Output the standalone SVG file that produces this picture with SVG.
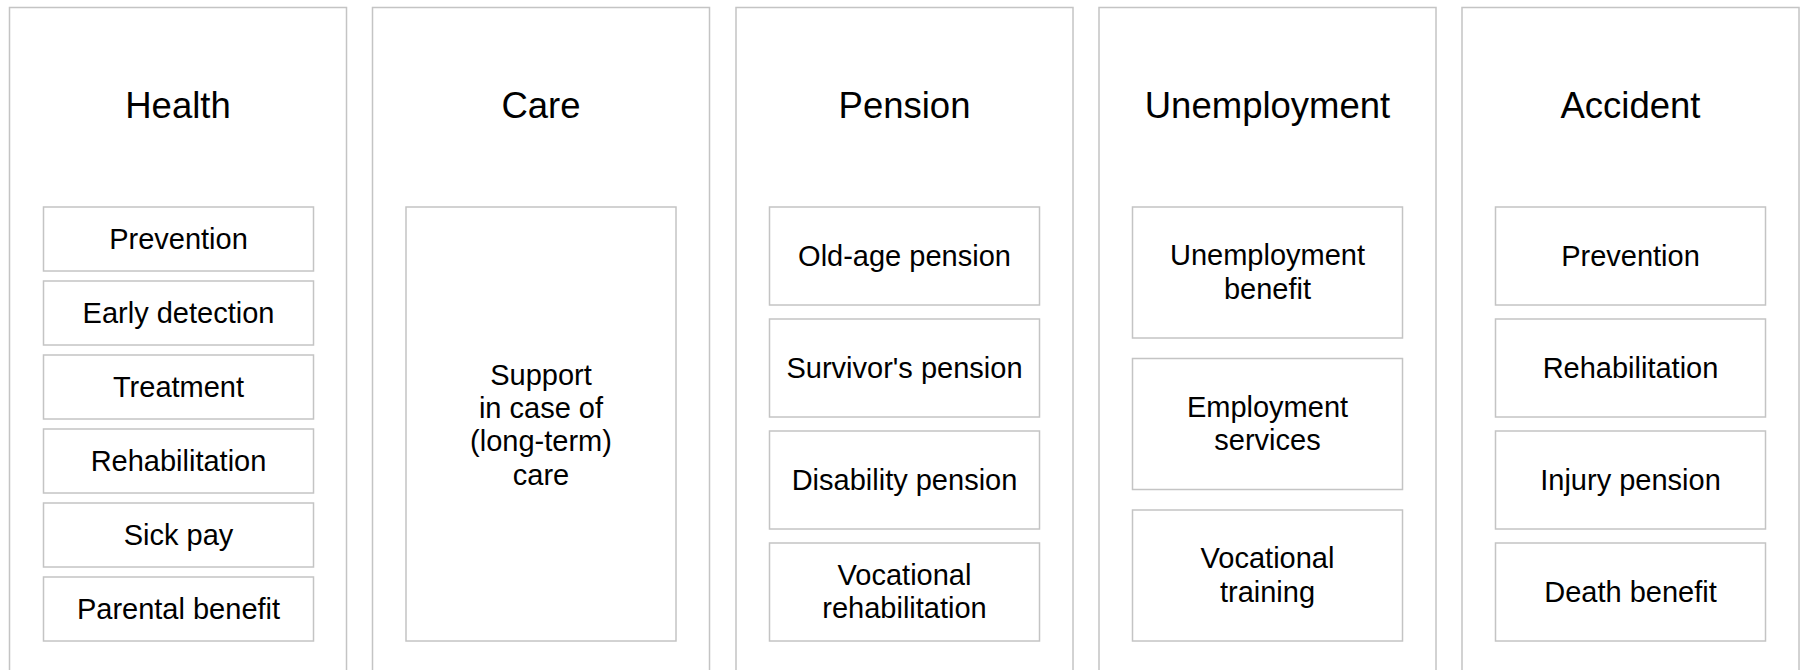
<svg xmlns="http://www.w3.org/2000/svg" width="1804" height="670" viewBox="0 0 1804 670">
<style>
.col{fill:#fff;stroke:#c4c4c4;stroke-width:1.5}
.box{fill:#fff;stroke:#c4c4c4;stroke-width:1.5}
.title{font-family:"Liberation Sans",Arial,sans-serif;font-size:36.5px;fill:#000;text-anchor:middle}
.t{font-family:"Liberation Sans",Arial,sans-serif;font-size:29px;fill:#000;text-anchor:middle}
</style>
<rect width="1804" height="670" fill="#fff"/>
<g id="health">
<rect class="col" x="9.5" y="7.5" width="337" height="700"/>
<text class="title" x="178" y="118">Health</text>
<g id="health-prevention"><rect class="box" x="43.5" y="207" width="270" height="64"/><text class="t" x="178.5" y="249">Prevention</text></g>
<g id="health-early"><rect class="box" x="43.5" y="281" width="270" height="64"/><text class="t" x="178.5" y="323">Early detection</text></g>
<g id="health-treatment"><rect class="box" x="43.5" y="355" width="270" height="64"/><text class="t" x="178.5" y="397">Treatment</text></g>
<g id="health-rehab"><rect class="box" x="43.5" y="429" width="270" height="64"/><text class="t" x="178.5" y="471">Rehabilitation</text></g>
<g id="health-sick"><rect class="box" x="43.5" y="503" width="270" height="64"/><text class="t" x="178.5" y="545">Sick pay</text></g>
<g id="health-parental"><rect class="box" x="43.5" y="577" width="270" height="64"/><text class="t" x="178.5" y="619">Parental benefit</text></g>
</g>
<g id="care">
<rect class="col" x="372.5" y="7.5" width="337" height="700"/>
<text class="title" x="541" y="118">Care</text>
<g id="care-support"><rect class="box" x="406" y="207" width="270" height="434"/>
<text class="t" x="541" y="384.5">Support</text>
<text class="t" x="541" y="418">in case of</text>
<text class="t" x="541" y="451">(long-term)</text>
<text class="t" x="541" y="484.5">care</text></g>
</g>
<g id="pension">
<rect class="col" x="736" y="7.5" width="337" height="700"/>
<text class="title" x="904.5" y="118">Pension</text>
<g id="pension-oldage"><rect class="box" x="769.5" y="207" width="270" height="98"/><text class="t" x="904.5" y="266">Old-age pension</text></g>
<g id="pension-survivor"><rect class="box" x="769.5" y="319" width="270" height="98"/><text class="t" x="904.5" y="378">Survivor's pension</text></g>
<g id="pension-disability"><rect class="box" x="769.5" y="431" width="270" height="98"/><text class="t" x="904.5" y="490">Disability pension</text></g>
<g id="pension-vocational"><rect class="box" x="769.5" y="543" width="270" height="98"/><text class="t" x="904.5" y="584.5">Vocational</text><text class="t" x="904.5" y="618">rehabilitation</text></g>
</g>
<g id="unemployment">
<rect class="col" x="1099" y="7.5" width="337" height="700"/>
<text class="title" x="1267.5" y="118">Unemployment</text>
<g id="unemp-benefit"><rect class="box" x="1132.5" y="207" width="270" height="131"/><text class="t" x="1267.5" y="265">Unemployment</text><text class="t" x="1267.5" y="298.5">benefit</text></g>
<g id="unemp-services"><rect class="box" x="1132.5" y="358.5" width="270" height="131"/><text class="t" x="1267.5" y="416.5">Employment</text><text class="t" x="1267.5" y="450">services</text></g>
<g id="unemp-training"><rect class="box" x="1132.5" y="510" width="270" height="131"/><text class="t" x="1267.5" y="568">Vocational</text><text class="t" x="1267.5" y="601.5">training</text></g>
</g>
<g id="accident">
<rect class="col" x="1462" y="7.5" width="337" height="700"/>
<text class="title" x="1630.5" y="118">Accident</text>
<g id="acc-prevention"><rect class="box" x="1495.5" y="207" width="270" height="98"/><text class="t" x="1630.5" y="266">Prevention</text></g>
<g id="acc-rehab"><rect class="box" x="1495.5" y="319" width="270" height="98"/><text class="t" x="1630.5" y="378">Rehabilitation</text></g>
<g id="acc-injury"><rect class="box" x="1495.5" y="431" width="270" height="98"/><text class="t" x="1630.5" y="490">Injury pension</text></g>
<g id="acc-death"><rect class="box" x="1495.5" y="543" width="270" height="98"/><text class="t" x="1630.5" y="602">Death benefit</text></g>
</g>
<g id="connectors"/>
</svg>
